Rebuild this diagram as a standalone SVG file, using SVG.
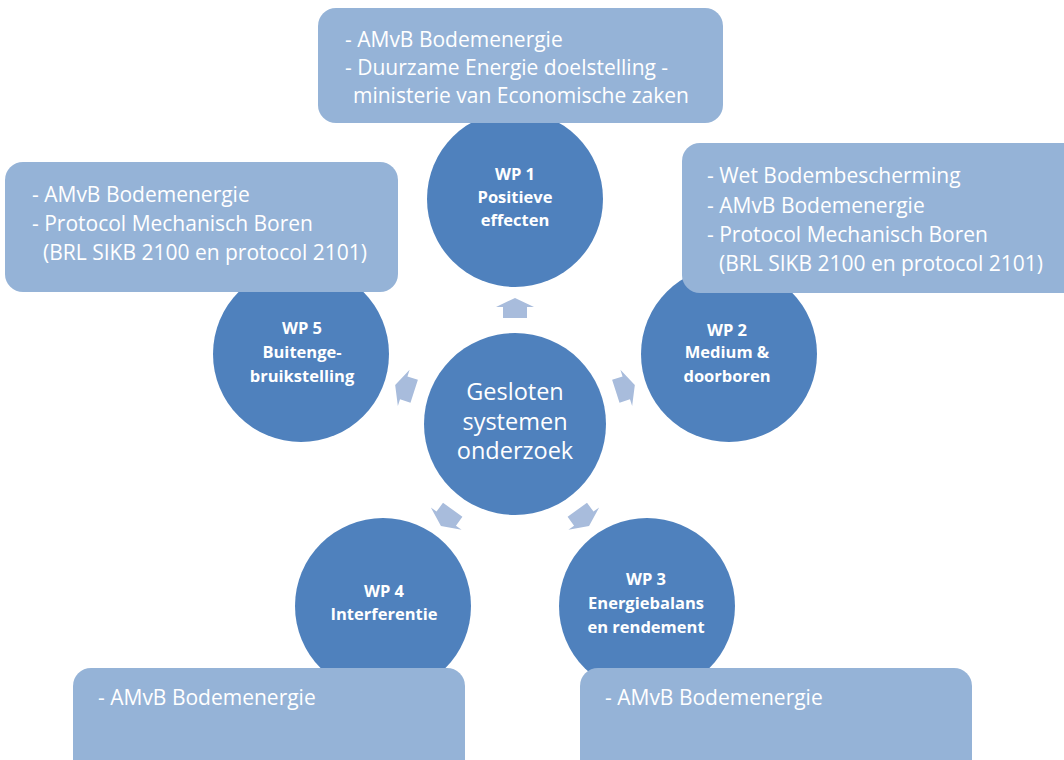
<svg xmlns="http://www.w3.org/2000/svg" width="1064" height="760" viewBox="0 0 1064 760">
<defs>
<style>
.c{fill:#4f81bd}
.b{fill:#95b3d7}
.a{fill:#a8bcdc}
.t{font-family:"Open Sans","Liberation Sans",sans-serif;fill:#fff}
.bt{font-size:21px}
.ct{font-size:16.5px;font-weight:bold;text-anchor:middle}
.mt{font-size:23.5px;text-anchor:middle}
</style>
<path id="arr" d="M0,-10 L19,-1 L12,-1 L12,10 L-12,10 L-12,-1 L-19,-1 Z"/>
</defs>
<rect width="1064" height="760" fill="#fff"/>
<g id="connectors">
<use href="#arr" class="a" transform="translate(515,424) rotate(0) translate(0,-116)"/>
<use href="#arr" class="a" transform="translate(515,424) rotate(72) translate(0,-116)"/>
<use href="#arr" class="a" transform="translate(515,424) rotate(144) translate(0,-116)"/>
<use href="#arr" class="a" transform="translate(515,424) rotate(216) translate(0,-116)"/>
<use href="#arr" class="a" transform="translate(515,424) rotate(288) translate(0,-116)"/>
</g>
<g id="center">
<circle class="c" cx="515" cy="424" r="91"/>
<text class="t mt"><tspan x="515" y="400">Gesloten</tspan><tspan x="515" y="430">systemen</tspan><tspan x="515" y="459">onderzoek</tspan></text>
</g>
<g id="wp1">
<circle class="c" cx="515" cy="199" r="88"/>
<text class="t ct"><tspan x="515" y="180">WP 1</tspan><tspan x="515" y="203">Positieve</tspan><tspan x="515" y="226">effecten</tspan></text>
</g>
<g id="wp2">
<circle class="c" cx="729" cy="354" r="88"/>
<text class="t ct"><tspan x="727" y="336">WP 2</tspan><tspan x="727" y="358">Medium &amp;</tspan><tspan x="727" y="382">doorboren</tspan></text>
</g>
<g id="wp3">
<circle class="c" cx="647" cy="606" r="88"/>
<text class="t ct"><tspan x="646" y="585">WP 3</tspan><tspan x="646" y="609">Energiebalans</tspan><tspan x="646" y="633">en rendement</tspan></text>
</g>
<g id="wp4">
<circle class="c" cx="383" cy="606" r="88"/>
<text class="t ct"><tspan x="384" y="597">WP 4</tspan><tspan x="384" y="620">Interferentie</tspan></text>
</g>
<g id="wp5">
<circle class="c" cx="301" cy="354" r="88"/>
<text class="t ct"><tspan x="302" y="334">WP 5</tspan><tspan x="302" y="358">Buitenge-</tspan><tspan x="302" y="382">bruikstelling</tspan></text>
</g>
<g id="box1">
<rect class="b" x="318" y="8" width="405" height="115" rx="18"/>
<text class="t bt"><tspan x="345" y="47">- AMvB Bodemenergie</tspan><tspan x="345" y="75">- Duurzame Energie doelstelling -</tspan><tspan x="353" y="103">ministerie van Economische zaken</tspan></text>
</g>
<g id="box5">
<rect class="b" x="5" y="162" width="393" height="130" rx="18"/>
<text class="t bt"><tspan x="32" y="202">- AMvB Bodemenergie</tspan><tspan x="32" y="231">- Protocol Mechanisch Boren</tspan><tspan x="43" y="260">(BRL SIKB 2100 en protocol 2101)</tspan></text>
</g>
<g id="box2">
<rect class="b" x="682" y="143" width="400" height="150" rx="18"/>
<text class="t bt"><tspan x="707" y="183">- Wet Bodembescherming</tspan><tspan x="707" y="213">- AMvB Bodemenergie</tspan><tspan x="707" y="242">- Protocol Mechanisch Boren</tspan><tspan x="719" y="271">(BRL SIKB 2100 en protocol 2101)</tspan></text>
</g>
<g id="box4">
<rect class="b" x="73" y="668" width="392" height="110" rx="18"/>
<text class="t bt"><tspan x="98" y="705">- AMvB Bodemenergie</tspan></text>
</g>
<g id="box3">
<rect class="b" x="580" y="668" width="392" height="110" rx="18"/>
<text class="t bt"><tspan x="605" y="705">- AMvB Bodemenergie</tspan></text>
</g>
</svg>
